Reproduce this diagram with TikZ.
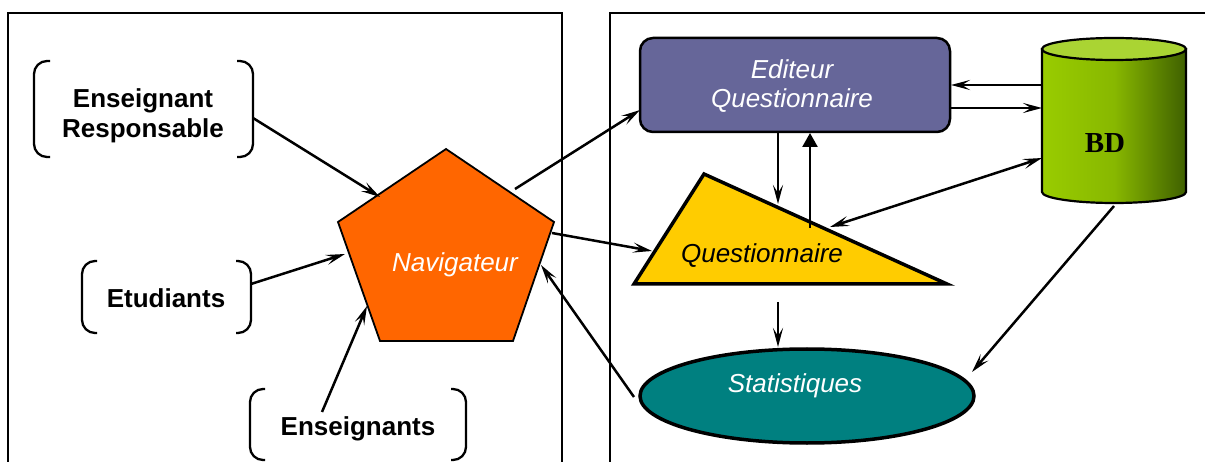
\documentclass[tikz,border=0pt]{standalone}
\usepackage{fontspec}
\setmainfont{Liberation Sans}
\newfontfamily\serifbd{Liberation Serif}
\usetikzlibrary{arrows.meta,shapes.geometric}
\definecolor{navor}{HTML}{FF6600}
\definecolor{edpurple}{HTML}{666699}
\definecolor{qyellow}{HTML}{FFCC00}
\definecolor{stteal}{HTML}{008080}
\definecolor{bdlight}{HTML}{99CC00}
\definecolor{bdmid}{HTML}{88B800}
\definecolor{bddark}{HTML}{3F6000}
\definecolor{bdtop}{HTML}{AAD433}
\tikzset{
  frame/.style={line width=1.5pt},
  brkline/.style={line width=2.3pt, rounded corners=13pt},
  lbl/.style={font=\fontsize{26}{30}\selectfont\bfseries, align=center, inner sep=0pt},
  itl/.style={font=\fontsize{26}{30}\selectfont\itshape, align=center, inner sep=0pt},
  conn/.style={line width=2.5pt, -{Stealth[length=19pt,width=10pt,inset=8pt]}},
  dconn/.style={line width=2.5pt, {Stealth[length=19pt,width=10pt,inset=8pt]}-{Stealth[length=19pt,width=10pt,inset=8pt]}},
}
\begin{document}
\begin{tikzpicture}[x=1pt,y=-1pt]
\useasboundingbox (0,0) rectangle (1205,462);
\fill[white] (0,0) rectangle (1205,462);
% frames
\draw[frame] (8,475) -- (8,13) -- (562,13) -- (562,475);
\draw[frame] (610,475) -- (610,13) -- (1215,13);
% brackets
\draw[brkline] (50,61) -- (34,61) -- (34,157) -- (50,157);
\draw[brkline] (237,61) -- (253,61) -- (253,157) -- (237,157);
\draw[brkline] (97,261) -- (82,261) -- (82,333) -- (97,333);
\draw[brkline] (236,261) -- (251,261) -- (251,333) -- (236,333);
\draw[brkline] (265,389) -- (250,389) -- (250,460) -- (265,460);
\draw[brkline] (451,389) -- (466,389) -- (466,460) -- (451,460);
\node[lbl] (er) at (143,116) {Enseignant\\Responsable};
\node[lbl, anchor=base] (et) at (166,308) {Etudiants};
\node[lbl, anchor=base] (en) at (358,435) {Enseignants};
% pentagon
\coordinate (p1) at (446,149);
\coordinate (p2) at (554,222);
\coordinate (p3) at (513,341);
\coordinate (p4) at (380,341);
\coordinate (p5) at (338,222);
\fill[navor] (p1) -- (p2) -- (p3) -- (p4) -- (p5) -- cycle;
\draw[line width=1.8pt, line join=miter] (p1) -- (p2) -- (p3) -- (p4) -- (p5) -- cycle;
\node[itl, text=white, anchor=base] (nav) at (455,272) {Navigateur};
% editeur
\node[draw, line width=2.5pt, fill=edpurple, rounded corners=13pt, minimum width=310pt, minimum height=94pt, inner sep=0pt] (ed) at (795,85) {};
\node[itl, text=white, anchor=base] (ed1) at (792,79) {Editeur};
\node[itl, text=white, anchor=base] (ed2) at (792,108) {Questionnaire};
% triangle
\coordinate (t1) at (704,174);
\coordinate (t2) at (947,284);
\coordinate (t3) at (634,284);
\draw[line width=3.5pt, fill=qyellow, line join=miter] (t1) -- (t2) -- (t3) -- cycle;
\node[itl, anchor=base] (q) at (762,263) {Questionnaire};
% statistiques
\node[ellipse, draw, line width=3.5pt, fill=stteal, minimum width=334pt, minimum height=94pt, inner sep=0pt] (st) at (807,396) {};
\node[itl, text=white, anchor=base] (stl) at (795,392) {Statistiques};
% cylinder
\shade[left color=bdlight, right color=bddark, middle color=bdmid, draw=black, line width=2.2pt]
  (1042,49) -- (1042,192) arc[start angle=180, end angle=360, x radius=72pt, y radius=11pt] -- (1186,49) -- cycle;
\draw[line width=2.2pt, fill=bdtop] (1114,49) ellipse[x radius=72pt, y radius=11pt];
\node[font=\fontsize{29}{32}\selectfont\serifbd\bfseries, anchor=base, inner sep=0pt] (bd) at (1105,153) {BD};
% connector coordinates
\coordinate (c1a) at (253,118); \coordinate (c1b) at (380,197);
\coordinate (c2a) at (251,284); \coordinate (c2b) at (345,254);
\coordinate (c3a) at (322,412); \coordinate (c3b) at (367,306);
\coordinate (c4a) at (515,189); \coordinate (c4b) at (640,110);
\coordinate (c5a) at (552,233); \coordinate (c5b) at (652,251);
\coordinate (c6a) at (634,397); \coordinate (c6b) at (541,265);
\coordinate (c7a) at (778,133); \coordinate (c7b) at (778,204);
\coordinate (c8a) at (810,228); \coordinate (c8b) at (810,133);
\coordinate (c9a) at (1042,85); \coordinate (c9b) at (951,85);
\coordinate (c10a) at (951,108); \coordinate (c10b) at (1042,108);
\coordinate (c11a) at (830,227); \coordinate (c11b) at (1042,158);
\coordinate (c12a) at (778,302); \coordinate (c12b) at (778,347);
\coordinate (c13a) at (1114,206); \coordinate (c13b) at (972,372);
\draw[conn] (c1a) -- (c1b);
\draw[conn] (c2a) -- (c2b);
\draw[conn] (c3a) -- (c3b);
\draw[conn] (c4a) -- (c4b);
\draw[conn] (c5a) -- (c5b);
\draw[conn] (c6a) -- (c6b);
\draw[conn] (c7a) -- (c7b);
\draw[line width=2.5pt, -{Triangle[length=14pt,width=15pt]}] (c8a) -- (c8b);
\draw[conn] (c9a) -- (c9b);
\draw[conn] (c10a) -- (c10b);
\draw[dconn] (c11a) -- (c11b);
\draw[conn] (c12a) -- (c12b);
\draw[conn] (c13a) -- (c13b);
\end{tikzpicture}
\end{document}
